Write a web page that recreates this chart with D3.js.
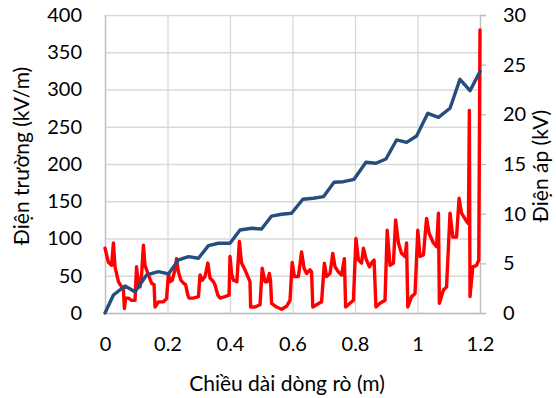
<!DOCTYPE html>
<html>
<head>
<meta charset="utf-8">
<script src="https://cdn.jsdelivr.net/npm/d3@7"></script>
<style>
  body { margin: 0; background: #fff; }
  svg text { font-family: Lato, "Open Sans", sans-serif; fill: #000; }
</style>
</head>
<body>
<div id="chart"></div>
<script>
// leakage length (m) and voltage (kV), right axis
const distance = [0, 0.027, 0.064, 0.096, 0.133, 0.171, 0.203, 0.235, 0.267, 0.299,
  0.331, 0.363, 0.40, 0.432, 0.469, 0.501, 0.533, 0.565, 0.597, 0.633,
  0.667, 0.699, 0.733, 0.763, 0.797, 0.835, 0.867, 0.899, 0.933, 0.965,
  0.997, 1.033, 1.067, 1.104, 1.136, 1.168, 1.2];
const voltage = [0, 1.81, 2.72, 2.14, 3.83, 4.16, 3.93, 5.34, 5.67, 5.51,
  6.78, 7.02, 7.02, 8.36, 8.53, 8.46, 9.76, 9.94, 10.04, 11.45,
  11.55, 11.71, 13.16, 13.22, 13.46, 15.17, 15.07, 15.5, 17.42, 17.18,
  17.82, 20.1, 19.7, 20.61, 23.53, 22.38, 24.3];

// electric field (kV/m), left axis
const fieldX = [0, 0.011, 0.021, 0.027, 0.032, 0.043, 0.053, 0.059, 0.062, 0.066,
  0.075, 0.085, 0.096, 0.101, 0.107, 0.112, 0.117, 0.123, 0.128, 0.139,
  0.149, 0.157, 0.16, 0.171, 0.187, 0.197, 0.203, 0.208, 0.215, 0.224,
  0.229, 0.235, 0.243, 0.251, 0.258, 0.265, 0.269, 0.283, 0.299, 0.304,
  0.311, 0.32, 0.329, 0.336, 0.347, 0.352, 0.361, 0.368, 0.384, 0.397,
  0.40, 0.405, 0.411, 0.422, 0.43, 0.437, 0.448, 0.459, 0.464, 0.466,
  0.48, 0.496, 0.503, 0.512, 0.519, 0.526, 0.53, 0.533, 0.549, 0.565,
  0.581, 0.592, 0.599, 0.606, 0.619, 0.629, 0.637, 0.645, 0.656, 0.661,
  0.665, 0.677, 0.693, 0.702, 0.709, 0.72, 0.729, 0.736, 0.747, 0.757,
  0.766, 0.77, 0.784, 0.795, 0.803, 0.811, 0.821, 0.827, 0.835, 0.846,
  0.854, 0.861, 0.867, 0.88, 0.896, 0.903, 0.912, 0.923, 0.93, 0.939,
  0.949, 0.96, 0.965, 0.969, 0.981, 0.992, 1.001, 1.008, 1.019, 1.029,
  1.037, 1.051, 1.061, 1.067, 1.07, 1.083, 1.093, 1.104, 1.113, 1.125,
  1.133, 1.141, 1.157, 1.163, 1.166, 1.168, 1.177, 1.189, 1.196, 1.2];
const fieldE = [87, 68, 64, 94, 62, 42, 35, 31, 6, 20,
  20, 17, 17, 62, 38, 35, 51, 91, 64, 51,
  40, 38, 8, 15, 15, 19, 53, 42, 44, 58,
  73, 55, 44, 40, 38, 24, 20, 20, 22, 51,
  44, 49, 67, 47, 42, 38, 24, 20, 22, 24,
  76, 53, 44, 42, 96, 67, 58, 47, 42, 8,
  8, 11, 60, 42, 42, 53, 42, 13, 8, 5,
  9, 17, 68, 49, 49, 82, 60, 53, 58, 55,
  8, 11, 15, 67, 49, 53, 80, 62, 55, 51,
  73, 8, 13, 17, 100, 71, 67, 87, 73, 62,
  68, 71, 8, 13, 17, 111, 64, 67, 125, 94,
  80, 76, 94, 8, 22, 26, 111, 76, 78, 127,
  107, 94, 89, 134, 13, 31, 35, 134, 102, 102,
  154, 134, 123, 120, 272, 22, 62, 64, 71, 380];

const xTicks = [0, 0.2, 0.4, 0.6, 0.8, 1, 1.2];
const leftTicks = [0, 50, 100, 150, 200, 250, 300, 350, 400];
const rightTicks = [0, 5, 10, 15, 20, 25, 30];

const xTitle = "Chiều dài dòng rò (m)";
const leftTitle = "Điện trường (kV/m)";
const rightTitle = "Điện áp (kV)";

const W = 556, H = 398;
const margin = {top: 15, right: 76, bottom: 85, left: 105};
const width = W - margin.left - margin.right;
const height = H - margin.top - margin.bottom;

const svg = d3.select("#chart").append("svg")
  .attr("width", W)
  .attr("height", H);

const g = svg.append("g")
  .attr("transform", "translate(" + margin.left + "," + margin.top + ")");

const x = d3.scaleLinear().domain([0, 1.2]).range([0, width]);
const yL = d3.scaleLinear().domain([0, 400]).range([height, 0]);
const yR = d3.scaleLinear().domain([0, 30]).range([height, 0]);

const gridColor = "#d9d9d9";
const axisColor = "#bfbfbf";

// gridlines
g.append("g")
  .call(d3.axisLeft(yL).tickValues(leftTicks).tickSize(-width).tickFormat(""))
  .call(s => s.select(".domain").remove())
  .selectAll("line").attr("stroke", gridColor).attr("stroke-width", 1.3);

g.append("g")
  .attr("transform", "translate(0," + height + ")")
  .call(d3.axisBottom(x).tickValues(xTicks).tickSize(-height).tickFormat(""))
  .call(s => s.select(".domain").remove())
  .selectAll("line").attr("stroke", gridColor).attr("stroke-width", 1.3);

// left axis
const axL = g.append("g")
  .call(d3.axisLeft(yL).tickValues(leftTicks).tickSize(0).tickPadding(23));
axL.select(".domain").attr("stroke", axisColor).attr("stroke-width", 1.3);
axL.selectAll("text").style("font-size", "20px");

// bottom axis
const axB = g.append("g")
  .attr("transform", "translate(0," + height + ")")
  .call(d3.axisBottom(x).tickValues(xTicks).tickSize(0).tickPadding(24)
    .tickFormat(d3.format("")));
axB.select(".domain").attr("stroke", axisColor).attr("stroke-width", 1.3);
axB.selectAll("text").style("font-size", "20px");

// right axis
const axR = g.append("g")
  .attr("transform", "translate(" + width + ",0)")
  .call(d3.axisRight(yR).tickValues(rightTicks).tickSize(6).tickPadding(17));
axR.select(".domain").attr("stroke", axisColor).attr("stroke-width", 1.3);
axR.selectAll("line").attr("stroke", axisColor).attr("stroke-width", 1.3);
axR.selectAll("text").style("font-size", "20px");

// electric field line
const fieldData = fieldX.map((d, i) => ({x: d, y: fieldE[i]}));
g.append("path")
  .datum(fieldData)
  .attr("fill", "none")
  .attr("stroke", "#ff0000")
  .attr("stroke-width", 3.4)
  .attr("stroke-linejoin", "round")
  .attr("stroke-linecap", "round")
  .attr("d", d3.line().x(d => x(d.x)).y(d => yL(d.y)));

// voltage line
const voltData = distance.map((d, i) => ({x: d, y: voltage[i]}));
g.append("path")
  .datum(voltData)
  .attr("fill", "none")
  .attr("stroke", "#254d7d")
  .attr("stroke-width", 3.4)
  .attr("stroke-linejoin", "round")
  .attr("stroke-linecap", "round")
  .attr("d", d3.line().x(d => x(d.x)).y(d => yR(d.y)));

// axis titles
svg.append("text")
  .attr("x", 287)
  .attr("y", 391)
  .attr("text-anchor", "middle")
  .style("font-size", "21px")
  .text(xTitle);

svg.append("text")
  .attr("transform", "translate(22,156) rotate(-90)")
  .attr("text-anchor", "middle")
  .attr("dy", "0.35em")
  .style("font-size", "21px")
  .text(leftTitle);

svg.append("text")
  .attr("transform", "translate(541,166) rotate(-90)")
  .attr("text-anchor", "middle")
  .attr("dy", "0.35em")
  .style("font-size", "21px")
  .text(rightTitle);
</script>
</body>
</html>
